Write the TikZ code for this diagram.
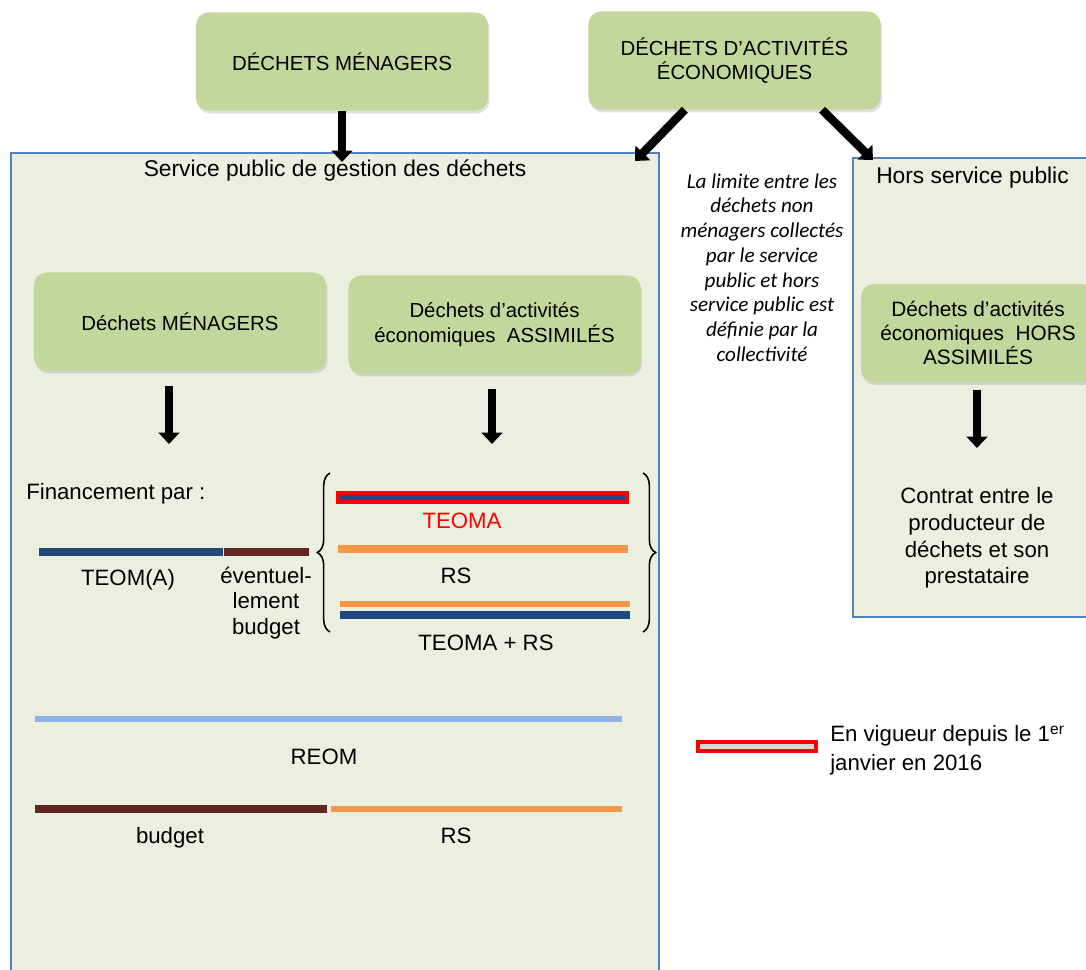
\documentclass[tikz,border=0pt]{standalone}
\usepackage{fontspec}
\setmainfont{Liberation Sans}
\newfontfamily\notefont{Carlito}
\usepackage{xcolor}
\usetikzlibrary{arrows.meta,shadows,decorations.pathreplacing}
\definecolor{dchgreen}{HTML}{C3D69B}
\definecolor{dchpanel}{HTML}{EBEFDF}
\definecolor{dchframe}{HTML}{4F81BD}
\definecolor{dchblue}{HTML}{1F497D}
\definecolor{dchbrown}{HTML}{632523}
\definecolor{dchorange}{HTML}{F79646}
\definecolor{dchsky}{HTML}{8DB3E2}
\definecolor{dchgrey}{HTML}{D9D9D9}

\begin{document}
\begin{tikzpicture}[x=0.025cm, y=-0.025cm,
  every node/.style={font=\fontsize{15.8}{18}\selectfont, inner sep=0pt},
  greenbox/.style={fill=dchgreen, rounded corners=9pt, align=center,
    font=\fontsize{14.5}{17.5}\selectfont,
    minimum width=7.3cm, minimum height=2.45cm,
    drop shadow={shadow xshift=1pt, shadow yshift=-2pt, opacity=0.25}},
  panel/.style={fill=dchpanel, draw=dchframe, line width=1.1pt},
  bigarrow/.style={line width=6pt, -{Triangle[width=14.5pt,length=8pt]}},
  bar/.style={line width=5pt}]

  % Page
  \useasboundingbox[fill=white] (0,0) rectangle (1086,970);

  % Panels
  \node[panel, minimum width=16.2cm, minimum height=20.8cm] (spg) at (335,569) {};
  \node[panel, minimum width=6.05cm, minimum height=11.475cm] (hsp) at (974,387.5) {};
  \node[font=\fontsize{16.2}{18}\selectfont] (spgtitle) at (335,170) {Service public de gestion des déchets};
  \node[anchor=west, font=\fontsize{16.2}{18}\selectfont] (hsptitle) at (876,178) {Hors service public};

  % Top boxes
  \node[greenbox] (dm) at (342,61.5) {DÉCHETS MÉNAGERS};
  \node[greenbox] (dae) at (734.5,60.5) {DÉCHETS D’ACTIVITÉS\\ÉCONOMIQUES};

  % Arrows from the top boxes
  \coordinate (spgin) at (342,162);
  \coordinate (spgcorner) at (635,161);
  \coordinate (hspcorner) at (873,160);
  \draw[bigarrow] (dm.south) -- (spgin);
  \draw[bigarrow] ([xshift=-1.24cm]dae.south) -- (spgcorner);
  \draw[bigarrow] ([xshift=2.19cm]dae.south) -- (hspcorner);

  % Note between the panels
  \node[align=center, font=\notefont\itshape\fontsize{15}{17.6}\selectfont] (note) at (762,267.5)
    {La limite entre les\\déchets non\\ménagers collectés\\par le service\\public et hors\\service public est\\définie par la\\collectivité};

  % Boxes inside the panels
  \node[greenbox] (dmin) at (180,321.5) {Déchets MÉNAGERS};
  \node[greenbox] (assim) at (494.5,324.5) {Déchets d’activités\\économiques\ \ ASSIMILÉS};
  \node[greenbox, minimum width=5.85cm, font=\fontsize{14.8}{17}\selectfont] (hors) at (978,333) {Déchets d’activités\\économiques\ \ HORS\\ASSIMILÉS};

  \coordinate (dmtip) at (169,444);
  \coordinate (assimtip) at (492,444);
  \coordinate (horstip) at (977,448);
  \draw[bigarrow, shorten <=0.375cm] (dmtip |- dmin.south) -- (dmtip);
  \draw[bigarrow, shorten <=0.375cm] (assimtip |- assim.south) -- (assimtip);
  \draw[bigarrow, shorten <=0.2cm] (horstip |- hors.south) -- (horstip);

  \node[align=center, font=\fontsize{15.8}{19}\selectfont] (contrat) at (977,538)
    {Contrat entre le\\producteur de\\déchets et son\\prestataire};

  % Financement
  \node[anchor=west] (fin) at (26,494) {Financement par :};

  \draw[bar, dchblue] (39,552) -- (223,552);
  \draw[bar, dchbrown] (224,552) -- (309,552);
  \node (teoma) at (128,580) {TEOM(A)};
  \node[align=center] (eventuel) at (266,603) {éventuel-\\lement\\budget};

  \draw[line width=1.1pt, decorate, decoration={brace, amplitude=9pt}] (330,632) -- (330,473);
  \draw[line width=1.1pt, decorate, decoration={brace, amplitude=9pt}] (643,473) -- (643,632);

  \draw[fill=dchblue, draw=red, line width=2.2pt] (338,493) rectangle (627,502);
  \node[red] (teomared) at (462,521) {TEOMA};
  \draw[bar, dchorange] (338,549) -- (628,549);
  \node (rsa) at (456,576) {RS};
  \draw[line width=4.5pt, dchorange] (340,604) -- (630,604);
  \draw[line width=5.5pt, dchblue] (340,615) -- (630,615);
  \node (teomars) at (486,643) {TEOMA + RS};

  \draw[line width=4.5pt, dchsky] (35,719) -- (622,719);
  \node (reom) at (324,757) {REOM};

  \draw[line width=5.5pt, dchbrown] (35,809) -- (327,809);
  \draw[line width=4.5pt, dchorange] (331,809) -- (622,809);
  \node (budget) at (170,838) {budget};
  \node (rsb) at (456,836) {RS};

  % Legend
  \draw[fill=dchgrey, draw=red, line width=2.2pt] (698,742) rectangle (816,751);
  \node[anchor=west, align=left, font=\fontsize{15.8}{20.6}\selectfont] (legend) at (830,750.5)
    {En vigueur depuis le 1\textsuperscript{er}\\janvier en 2016};
\end{tikzpicture}
\end{document}
